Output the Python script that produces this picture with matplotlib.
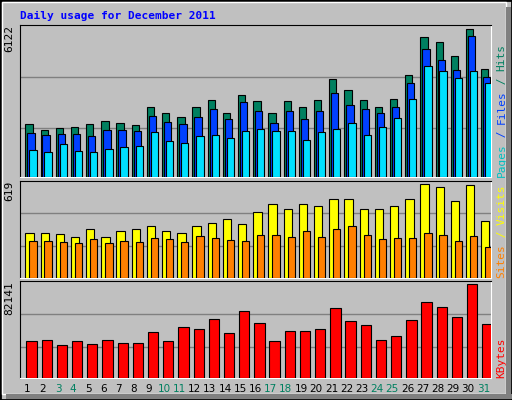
import matplotlib
matplotlib.use("Agg")
import matplotlib.pyplot as plt
from matplotlib.patches import Rectangle

days = list(range(1, 32))
weekend = [3, 4, 10, 11, 17, 18, 24, 25, 31]

hits = [2216, 1967, 2050, 2091, 2216, 2341, 2258, 2174, 2881, 2673, 2507, 2922, 3172, 2673, 3380, 3130,
        2673, 3130, 2881, 3172, 4044, 3587, 3172, 2922, 3213, 4210, 5789, 5582, 5000, 6122, 4460]
files = [1842, 1759, 1800, 1800, 1717, 1967, 1967, 1925, 2548, 2299, 2216, 2507, 2839, 2424, 3089, 2715,
         2258, 2756, 2424, 2756, 3463, 2964, 2839, 2673, 2922, 3878, 5291, 4834, 4418, 5831, 4127]
pages = [1136, 1053, 1385, 1094, 1053, 1177, 1260, 1302, 1884, 1510, 1427, 1717, 1759, 1634, 1925, 2008,
         1925, 1925, 1551, 1884, 2008, 2258, 1759, 2091, 2465, 3213, 4584, 4377, 4086, 4377, 3878]
visits = [296, 296, 289, 269, 323, 269, 310, 323, 343, 310, 296, 343, 363, 390, 357, 437,
          491, 458, 491, 478, 518, 518, 458, 458, 478, 518, 619, 599, 505, 612, 377]
sites = [242, 242, 236, 229, 256, 229, 242, 236, 262, 256, 236, 276, 262, 249, 242, 283,
         283, 269, 310, 269, 323, 343, 283, 256, 262, 262, 296, 283, 242, 276, 202]
kbytes = [32678, 33576, 29080, 32678, 29980, 33576, 30879, 30879, 40772, 32678, 44369, 42570, 51564,
          39872, 58759, 47966, 32678, 41671, 41671, 42570, 61457, 49765, 46168, 33576, 37174, 50664,
          66853, 62357, 53362, 82141, 47067]

BG = "#c0c0c0"
W, H = 512, 400
fig = plt.figure(figsize=(W / 100, H / 100), dpi=100, facecolor=BG)

# outer bevel
fig.patches.append(Rectangle((0, 0), 1, 1, transform=fig.transFigure, fill=False, ec="black", lw=2))
fig.patches.append(Rectangle((2 / W, 6 / H), 1 - 8 / W, 1 - 8 / H, transform=fig.transFigure,
                             fill=False, ec="white", lw=1))
fig.patches.append(Rectangle((6 / W, 1 / H), 1, 5 / H, transform=fig.transFigure, fc="#808080", ec="none"))
fig.patches.append(Rectangle((1 - 6 / W, 1 / H), 5 / W, 1 - 8 / H, transform=fig.transFigure, fc="#808080", ec="none"))


def panel(top, bottom):
    ax = fig.add_axes([20 / W, 1 - bottom / H, 471 / W, (bottom - top) / H], facecolor=BG)
    ax.set_xlim(0, 31)
    ax.set_xticks([])
    ax.set_yticks([])
    for s in ["left", "top"]:
        ax.spines[s].set_color("black")
    for s in ["right", "bottom"]:
        ax.spines[s].set_color("white")
    for f in (0.32, 0.66):
        ax.plot([0, 1], [f, f], color="#808080", lw=1, transform=ax.transAxes, zorder=1)
    return ax


x = [d - 1 for d in days]
kw = dict(align="edge", edgecolor="black", linewidth=0.8, zorder=3)

ax1 = panel(25, 177)
ax1.set_ylim(0, 6300)
ax1.bar([v + 0.35 for v in x], hits, width=0.48, color="#008060", **kw)
ax1.bar([v + 0.48 for v in x], files, width=0.48, color="#0040ff", **kw)
ax1.bar([v + 0.61 for v in x], pages, width=0.48, color="#00e0ff", **kw)

ax2 = panel(180.5, 277.5)
ax2.set_ylim(0, 644)
ax2.bar([v + 0.35 for v in x], visits, width=0.55, color="#ffff00", **kw)
ax2.bar([v + 0.61 for v in x], sites, width=0.48, color="#ff8000", **kw)

ax3 = panel(281, 378)
ax3.set_ylim(0, 85139)
ax3.bar([v + 0.42 for v in x], kbytes, width=0.68, color="#ff0000", **kw)

mono = dict(family="DejaVu Sans Mono", fontsize=8)
fig.text(20 / W, 1 - 16 / H, "Daily usage for December 2011", color="#0000ff", weight="bold",
         va="center", ha="left", **mono)

for ax, lab in [(ax1, str(max(hits))), (ax2, str(max(visits))), (ax3, str(max(kbytes)))]:
    ax.text(-0.012, 1.0, lab, transform=ax.transAxes, rotation=90, ha="right", va="top", **mono)


# right side legends, reading bottom to top
def side(ax, parts):
    y = 0.0
    for txt, col in parts:
        ax.text(1.012, y, txt, transform=ax.transAxes, rotation=90, ha="left", va="bottom",
                color=col, **mono)
        y += len(txt) * 6.6 / ax.bbox.height


side(ax1, [("Pages", "#00c0c0"), (" / ", "#0040ff"), ("Files", "#0040ff"), (" / ", "#008060"), ("Hits", "#008060")])
side(ax2, [("Sites", "#ff8000"), (" / ", "#ffff00"), ("Visits", "#ffff00")])
side(ax3, [("KBytes", "#ff0000")])

for d in days:
    col = "#008060" if d in weekend else "black"
    ax3.text(d - 0.5, -0.11, str(d), transform=ax3.get_xaxis_transform(), ha="center", va="center",
             color=col, family="DejaVu Sans", fontsize=7.5)

fig.savefig("out.png", dpi=100, facecolor=BG)
